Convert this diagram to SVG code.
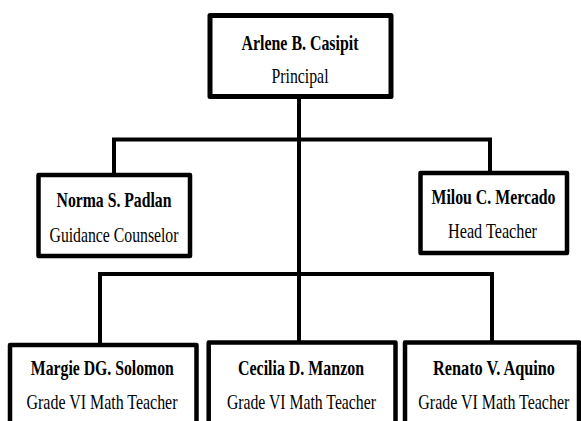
<svg xmlns="http://www.w3.org/2000/svg" width="581" height="421" viewBox="0 0 581 421">
<style>
.box{fill:#fff;stroke:#000;stroke-width:4.5;stroke-linejoin:round}
.top{stroke-width:5}
.con{fill:none;stroke:#000;stroke-width:4;stroke-linecap:square}
text{font-family:"Liberation Serif","Times New Roman",serif;font-size:22px;fill:#000;text-anchor:middle}
.n{font-weight:bold}
</style>
<rect width="581" height="421" fill="#fff"/>
<g id="connectors">
<path class="con" d="M299,99 V342"/>
<path class="con" d="M114,175 V139.5 H490 V173"/>
<path class="con" d="M100,345 V274 H492 V342"/>
</g>
<g id="principal">
<rect class="box top" x="210" y="15.5" width="181" height="81"/>
<text class="n" transform="translate(300 0) scale(0.73 1)" x="0" y="50" textLength="160.3" lengthAdjust="spacingAndGlyphs">Arlene B. Casipit</text>
<text transform="translate(300 0) scale(0.73 1)" x="0" y="83" textLength="78.1" lengthAdjust="spacingAndGlyphs">Principal</text>
</g>
<g id="guidance">
<rect class="box" x="38.5" y="175" width="151.5" height="81"/>
<text class="n" transform="translate(114 0) scale(0.73 1)" x="0" y="207" textLength="157.5" lengthAdjust="spacingAndGlyphs">Norma S. Padlan</text>
<text transform="translate(114 0) scale(0.73 1)" x="0" y="242" textLength="176.7" lengthAdjust="spacingAndGlyphs">Guidance Counselor</text>
</g>
<g id="head">
<rect class="box" x="420.5" y="173" width="146.5" height="80"/>
<text class="n" transform="translate(493.5 0) scale(0.73 1)" x="0" y="204" textLength="169.9" lengthAdjust="spacingAndGlyphs">Milou C. Mercado</text>
<text transform="translate(492.5 0) scale(0.73 1)" x="0" y="238" textLength="121.9" lengthAdjust="spacingAndGlyphs">Head Teacher</text>
</g>
<g id="teacher1">
<rect class="box" x="10" y="345" width="186.5" height="100"/>
<text class="n" transform="translate(102.3 0) scale(0.73 1)" x="0" y="375" textLength="195.9" lengthAdjust="spacingAndGlyphs">Margie DG. Solomon</text>
<text transform="translate(102 0) scale(0.73 1)" x="0" y="409" textLength="206.8" lengthAdjust="spacingAndGlyphs">Grade VI Math Teacher</text>
</g>
<g id="teacher2">
<rect class="box" x="208.7" y="342.5" width="186.8" height="100"/>
<text class="n" transform="translate(301 0) scale(0.73 1)" x="0" y="375" textLength="172.6" lengthAdjust="spacingAndGlyphs">Cecilia D. Manzon</text>
<text transform="translate(301.4 0) scale(0.73 1)" x="0" y="409" textLength="204.1" lengthAdjust="spacingAndGlyphs">Grade VI Math Teacher</text>
</g>
<g id="teacher3">
<rect class="box" x="405" y="342.5" width="174" height="100"/>
<text class="n" transform="translate(494 0) scale(0.73 1)" x="0" y="375" textLength="167.1" lengthAdjust="spacingAndGlyphs">Renato V. Aquino</text>
<text transform="translate(493.8 0) scale(0.73 1)" x="0" y="409" textLength="206.8" lengthAdjust="spacingAndGlyphs">Grade VI Math Teacher</text>
</g>
</svg>
